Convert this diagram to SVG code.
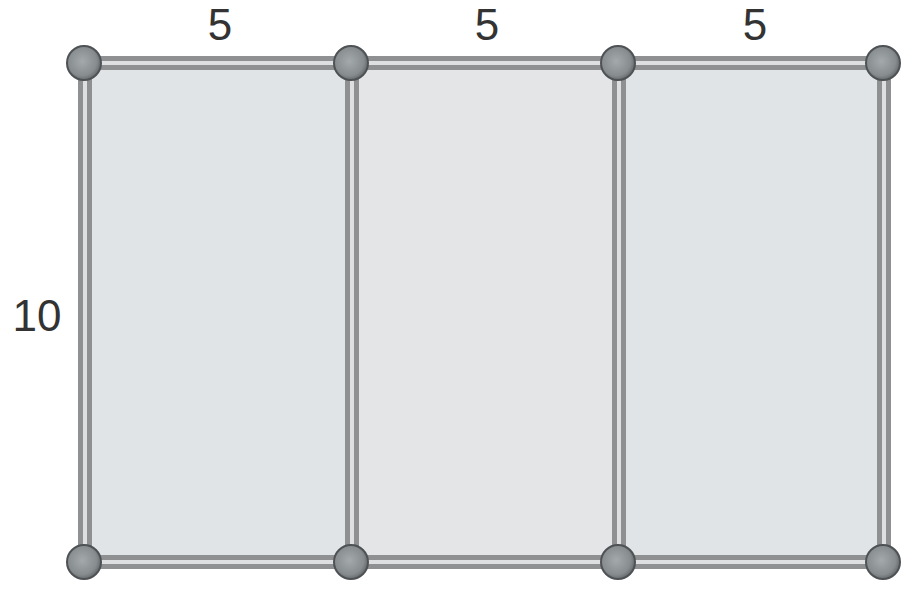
<svg xmlns="http://www.w3.org/2000/svg" width="902" height="599" viewBox="0 0 902 599">
<defs>
<radialGradient id="ng" cx="0.45" cy="0.45" r="0.6">
<stop offset="0" stop-color="#a4a9ab"/>
<stop offset="0.7" stop-color="#878c8f"/>
<stop offset="1" stop-color="#5c6063"/>
</radialGradient>
<style>
.lbl{font-family:"Liberation Sans",Arial,sans-serif;font-size:44px;fill:#333;text-anchor:middle}
.outer{stroke:#8e9092;stroke-width:14;fill:none}
.inner{stroke:#dedfe0;stroke-width:4;fill:none}
.node{fill:url(#ng);stroke:#4e5255;stroke-width:2}
</style>
</defs>
<rect width="902" height="599" fill="#ffffff"/>
<rect x="84" y="63" width="267" height="499" fill="#e1e4e7"/>
<rect x="351" y="63" width="267" height="499" fill="#e4e5e7"/>
<rect x="618" y="63" width="265" height="499" fill="#e1e4e7"/>
<g id="connectors">
<path class="outer" d="M84 63H883M84 562H883M85 63V562M352 63V562M619 63V562M884 63V562"/>
<path class="inner" d="M84 63H883M84 562H883M85 63V562M352 63V562M619 63V562M884 63V562"/>
</g>
<g id="n1"><circle class="node" cx="84" cy="63" r="17"/></g>
<g id="n2"><circle class="node" cx="351" cy="63" r="17"/></g>
<g id="n3"><circle class="node" cx="618" cy="63" r="17"/></g>
<g id="n4"><circle class="node" cx="883" cy="63" r="17"/></g>
<g id="n5"><circle class="node" cx="84" cy="562" r="17"/></g>
<g id="n6"><circle class="node" cx="351" cy="562" r="17"/></g>
<g id="n7"><circle class="node" cx="618" cy="562" r="17"/></g>
<g id="n8"><circle class="node" cx="883" cy="562" r="17"/></g>
<g id="labels">
<text class="lbl" x="220" y="40">5</text>
<text class="lbl" x="487" y="40">5</text>
<text class="lbl" x="755" y="40">5</text>
<text class="lbl" x="37" y="331">10</text>
</g>
</svg>
